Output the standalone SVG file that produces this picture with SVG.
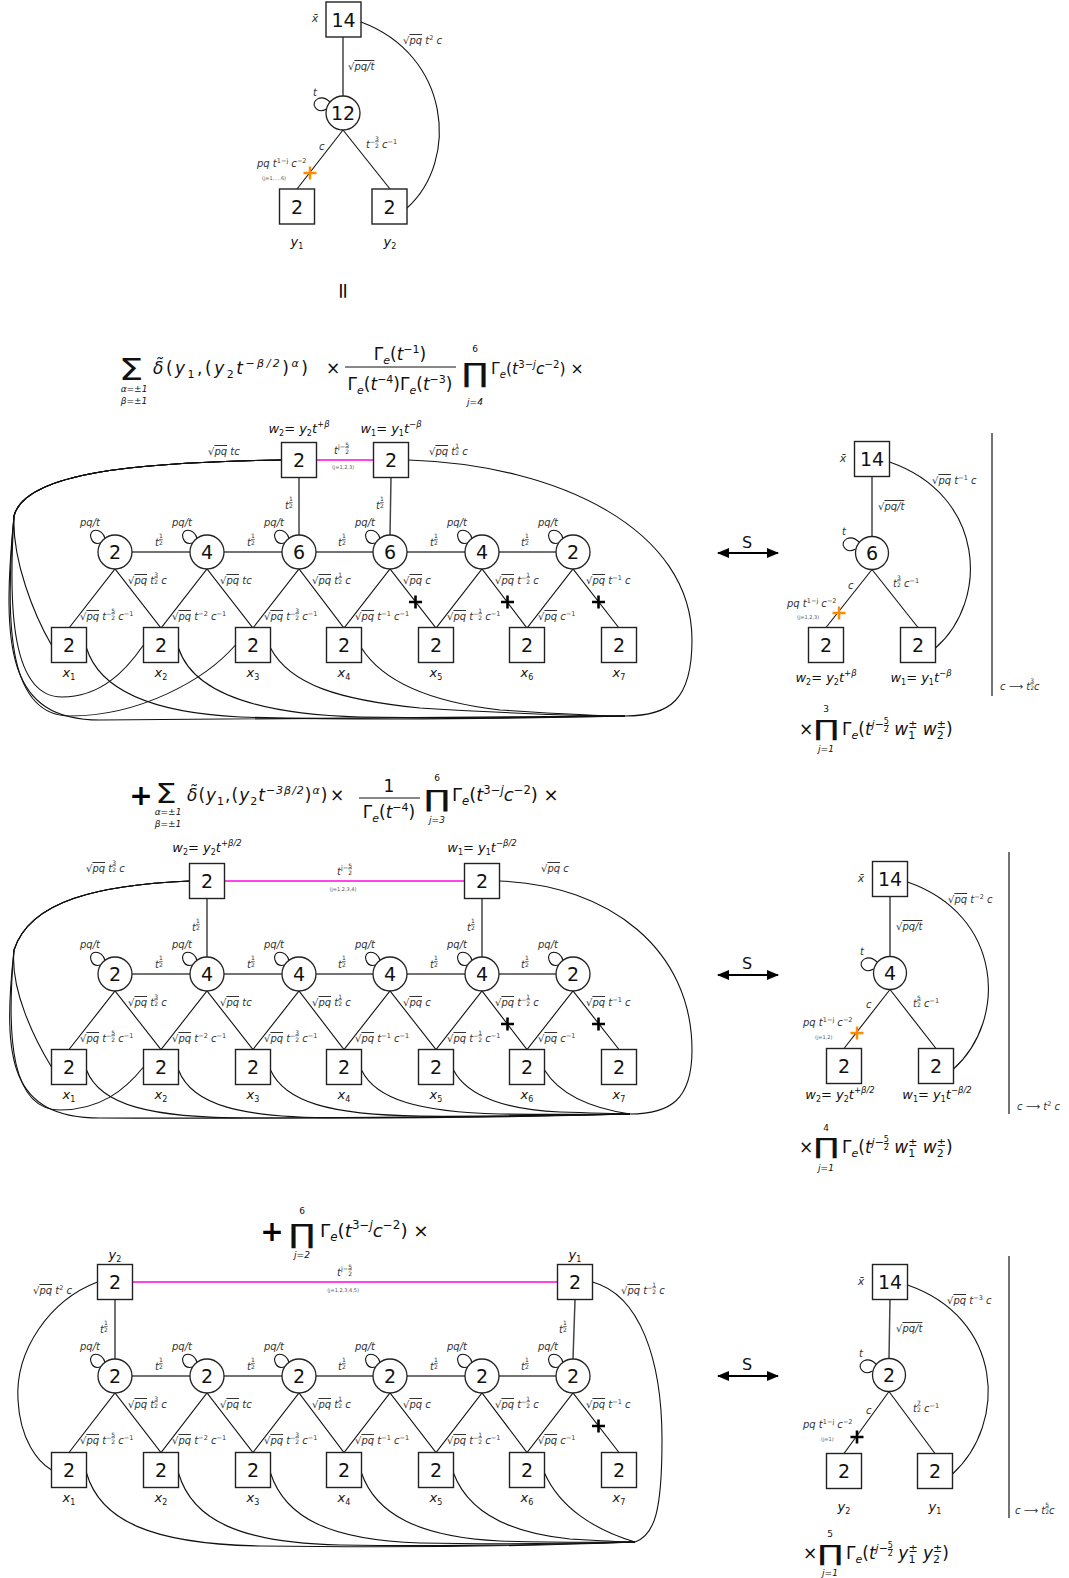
<svg xmlns="http://www.w3.org/2000/svg" width="1069" height="1578" viewBox="0 0 1069 1578">
<style>
.bx{fill:#fff;stroke:#222;stroke-width:1.4}
.ci{fill:#fff;stroke:#222;stroke-width:1.3}
.n{font-family:'DejaVu Sans',sans-serif;font-size:19px;text-anchor:middle;fill:#111}
.e{fill:none;stroke:#111;stroke-width:1.1}
.eg{fill:none;stroke:#444;stroke-width:1.5}
.mg{stroke:#ff44ee;stroke-width:1.8}
.lp{fill:none;stroke:#111;stroke-width:1.1}
.lb{font-family:'DejaVu Sans',sans-serif;font-size:10px;font-style:italic;fill:#333}
.fs{font-size:6px;font-style:normal}
.fe{font-size:6.5px;font-style:normal}
.fb{font-size:8px;font-style:normal}
.ov{text-decoration:overline}
.ul{text-decoration:underline}
.rm{font-style:normal}
.tn{font-family:'DejaVu Sans',sans-serif;font-size:5px;fill:#555}
.wl{font-family:'DejaVu Sans',sans-serif;font-size:13px;font-style:italic;fill:#111}
.sb{font-size:8px;font-style:normal}
.sp{font-size:8.5px}
.fm{font-family:'DejaVu Sans',sans-serif;font-size:17px;fill:#111}
.it{font-style:italic}
.big{font-family:'DejaVu Sans',sans-serif;font-size:28px;fill:#111;text-anchor:middle}
.sig{font-family:'DejaVu Sans',sans-serif;font-size:30px;fill:#111;text-anchor:middle}
.lim{font-family:'DejaVu Sans',sans-serif;font-size:9px;fill:#111;text-anchor:middle}
.fsub{font-size:11px}
.plus{font-family:'DejaVu Sans',sans-serif;font-size:28px;font-weight:bold;fill:#000;text-anchor:middle}
.xc{fill:none;stroke:#000;stroke-width:2.6}
.oc{fill:none;stroke:#ff8c00;stroke-width:2.4}
.sa{stroke:#000;stroke-width:2}
.st{font-family:'DejaVu Sans',sans-serif;font-size:16px;fill:#111;text-anchor:middle}
</style>
<defs>
<marker id="ah" markerUnits="userSpaceOnUse" markerWidth="12" markerHeight="10" refX="11" refY="5" orient="auto-start-reverse" viewBox="0 0 12 10"><path d="M0,0 L12,5 L0,10 z" fill="#000"/></marker>
<path id="LU" d="M-10,-13.5 C-13,-25 -27,-24 -24,-14 C-22,-8 -18,-8 -14.5,-9"/>
<path id="LL" d="M-13,-11 C-22,-20 -32,-12 -28,-6 C-25,-1 -20,-2 -16.5,-4"/>
<path id="XC" d="M-6.5,0H6.5M0,-6.5V6.5"/>
<text id="R1" class="lb"><tspan class="rm">√</tspan><tspan class="ov">pq</tspan> t<tspan class="fs ul" dy="-7.5">3</tspan><tspan class="fs" dx="-3.8" dy="7">2</tspan><tspan dy="0.5"> c</tspan></text>
<text id="R2" class="lb"><tspan class="rm">√</tspan><tspan class="ov">pq</tspan> tc</text>
<text id="R3" class="lb"><tspan class="rm">√</tspan><tspan class="ov">pq</tspan> t<tspan class="fs ul" dy="-7.5">1</tspan><tspan class="fs" dx="-3.8" dy="7">2</tspan><tspan dy="0.5"> c</tspan></text>
<text id="R4" class="lb"><tspan class="rm">√</tspan><tspan class="ov">pq</tspan> c</text>
<text id="R5" class="lb"><tspan class="rm">√</tspan><tspan class="ov">pq</tspan> t<tspan class="fs" dy="-4">−</tspan><tspan class="fs ul" dy="-3.5">1</tspan><tspan class="fs" dx="-3.8" dy="7">2</tspan><tspan dy="0.5"> c</tspan></text>
<text id="R6" class="lb"><tspan class="rm">√</tspan><tspan class="ov">pq</tspan> t<tspan class="fe" dy="-4">−1</tspan><tspan dy="4"> c</tspan></text>
<text id="R7" class="lb"><tspan class="rm">√</tspan><tspan class="ov">pq</tspan> t<tspan class="fe" dy="-4">−2</tspan><tspan dy="4"> c</tspan></text>
<text id="R8" class="lb"><tspan class="rm">√</tspan><tspan class="ov">pq</tspan> t<tspan class="fe" dy="-4">−3</tspan><tspan dy="4"> c</tspan></text>
<text id="LT" class="lb"><tspan class="rm">√</tspan><tspan class="ov">pq</tspan> t<tspan class="fe" dy="-4">2</tspan><tspan dy="4"> c</tspan></text>
<text id="L1" class="lb"><tspan class="rm">√</tspan><tspan class="ov">pq</tspan> t<tspan class="fs" dy="-4">−</tspan><tspan class="fs ul" dy="-3.5">5</tspan><tspan class="fs" dx="-3.8" dy="7">2</tspan><tspan dy="0.5"> c</tspan><tspan class="fe" dy="-4">−1</tspan></text>
<text id="L2" class="lb"><tspan class="rm">√</tspan><tspan class="ov">pq</tspan> t<tspan class="fe" dy="-4">−2</tspan><tspan dy="4"> c</tspan><tspan class="fe" dy="-4">−1</tspan></text>
<text id="L3" class="lb"><tspan class="rm">√</tspan><tspan class="ov">pq</tspan> t<tspan class="fs" dy="-4">−</tspan><tspan class="fs ul" dy="-3.5">3</tspan><tspan class="fs" dx="-3.8" dy="7">2</tspan><tspan dy="0.5"> c</tspan><tspan class="fe" dy="-4">−1</tspan></text>
<text id="L4" class="lb"><tspan class="rm">√</tspan><tspan class="ov">pq</tspan> t<tspan class="fe" dy="-4">−1</tspan><tspan dy="4"> c</tspan><tspan class="fe" dy="-4">−1</tspan></text>
<text id="L5" class="lb"><tspan class="rm">√</tspan><tspan class="ov">pq</tspan> t<tspan class="fs" dy="-4">−</tspan><tspan class="fs ul" dy="-3.5">1</tspan><tspan class="fs" dx="-3.8" dy="7">2</tspan><tspan dy="0.5"> c</tspan><tspan class="fe" dy="-4">−1</tspan></text>
<text id="L6" class="lb"><tspan class="rm">√</tspan><tspan class="ov">pq</tspan> c<tspan class="fe" dy="-4">−1</tspan></text>
<text id="TH" class="lb">t<tspan class="fs ul" dy="-8">1</tspan><tspan class="fs" dx="-3.8" dy="7">2</tspan></text>
<text id="TJ" class="lb">t<tspan class="fe" dy="-5">j−</tspan><tspan class="fs ul" dy="-2.5">5</tspan><tspan class="fs" dx="-3.8" dy="7">2</tspan></text>
<text id="SQ" class="lb"><tspan class="rm">√</tspan><tspan class="ov">pq/t</tspan></text>
<text id="PQT" class="lb">pq/t</text>
<text id="PQJ" class="lb">pq t<tspan class="fe" dy="-4">1−j</tspan><tspan dy="4"> c</tspan><tspan class="fe" dy="-4">−2</tspan></text>
<text id="W2a" class="wl" text-anchor="middle">w<tspan class="sb" dy="3">2</tspan><tspan class="rm" dy="-3">= </tspan>y<tspan class="sb" dy="3">2</tspan><tspan dy="-3">t</tspan><tspan class="sp" dy="-6">+β</tspan></text>
<text id="W1a" class="wl" text-anchor="middle">w<tspan class="sb" dy="3">1</tspan><tspan class="rm" dy="-3">= </tspan>y<tspan class="sb" dy="3">1</tspan><tspan dy="-3">t</tspan><tspan class="sp" dy="-6">−β</tspan></text>
<text id="W2b" class="wl" text-anchor="middle">w<tspan class="sb" dy="3">2</tspan><tspan class="rm" dy="-3">= </tspan>y<tspan class="sb" dy="3">2</tspan><tspan dy="-3">t</tspan><tspan class="sp" dy="-6">+β/2</tspan></text>
<text id="W1b" class="wl" text-anchor="middle">w<tspan class="sb" dy="3">1</tspan><tspan class="rm" dy="-3">= </tspan>y<tspan class="sb" dy="3">1</tspan><tspan dy="-3">t</tspan><tspan class="sp" dy="-6">−β/2</tspan></text>
<text id="GT" class="fm">Γ<tspan class="fsub it" dy="4">e</tspan><tspan dy="-4">(</tspan><tspan class="it">t</tspan><tspan class="fsub" dy="-7">3−<tspan class="it">j</tspan></tspan><tspan class="it" dy="7">c</tspan><tspan class="fsub" dy="-7">−2</tspan><tspan dy="7">) ×</tspan></text>
</defs>
<rect width="1069" height="1578" fill="#fff"/>

<g id="connectors">
 <g id="edges-top">
  <line class="eg" x1="343" y1="37" x2="343" y2="96"/>
  <line class="e" x1="343" y1="130" x2="297" y2="189"/>
  <line class="e" x1="343" y1="130" x2="390" y2="189"/>
  <path class="e" d="M361,22 C450,55 460,160 407,208"/>
  <use href="#LL" x="343" y="113" class="lp"/>
  <use href="#XC" x="310" y="173" class="oc"/>
 </g>
 <g id="edges-s1">
  <line class="eg" x1="299" y1="477" x2="299" y2="536"/>
  <line class="eg" x1="391" y1="477" x2="390" y2="536"/>
  <line class="mg" x1="317" y1="460" x2="373" y2="460"/>
  <line class="eg" x1="115" y1="552" x2="573" y2="552"/>
  <path class="e" d="M69,628 L115,569 L161,628 L207,569 L253,628 L299,569 L344,628 L390,569 L436,628 L482,569 L527,628 L573,569 L619,628"/>
  <path class="e" d="M281.5,460 C140,462 25,472 14,516 C12,560 34,615 51.5,645"/>
  <path class="e" d="M281.5,460 C140,462 25,472 14,516 C8,610 12,697 62,697 C100,697 125,672 143.5,645"/>
  <path class="e" d="M281.5,460 C140,462 25,472 14,516 C4,630 10,716 70,716 C140,716 205,680 235.5,645"/>
  <path class="e" d="M281.5,460 C140,462 25,472 14,516 C1,650 8,720 100,720 C300,720 500,718 625,716"/>
  <path class="e" d="M408.5,460 C560,465 692,530 692,640 C692,700 670,716 625,716"/>
  <path class="e" d="M86.5,648 C98,685 140,712 240,717 C380,721 540,718 625,716"/>
  <path class="e" d="M178.5,648 C192,690 250,714 360,717 C480,719 560,717 625,716"/>
  <path class="e" d="M270.5,648 C290,685 340,700 420,708 C520,714 580,716 625,716"/>
  <path class="e" d="M361.5,648 C385,685 440,703 500,710 C560,714 600,716 625,716"/>
  <use href="#LU" x="115" y="552" class="lp"/><use href="#LU" x="207" y="552" class="lp"/><use href="#LU" x="299" y="552" class="lp"/>
  <use href="#LU" x="390" y="552" class="lp"/><use href="#LU" x="482" y="552" class="lp"/><use href="#LU" x="573" y="552" class="lp"/>
  <use href="#XC" x="415.5" y="602" class="xc"/><use href="#XC" x="507.5" y="602" class="xc"/><use href="#XC" x="598.5" y="602" class="xc"/>
 </g>
 <g id="edges-s2">
  <line class="eg" x1="207" y1="898" x2="207" y2="957"/>
  <line class="eg" x1="482" y1="898" x2="482" y2="957"/>
  <line class="mg" x1="224.5" y1="881" x2="464.5" y2="881"/>
  <line class="eg" x1="115" y1="974" x2="573" y2="974"/>
  <path class="e" d="M69,1049.5 L115,991 L161,1049.5 L207,991 L253,1049.5 L299,991 L344,1049.5 L390,991 L436,1049.5 L482,991 L527,1049.5 L573,991 L619,1049.5"/>
  <path class="e" d="M189.5,881 C100,885 30,900 14,950 C10,990 35,1040 51.5,1067"/>
  <path class="e" d="M189.5,881 C100,885 30,900 14,950 C6,1040 12,1110 60,1110 C100,1110 125,1090 143.5,1067"/>
  <path class="e" d="M189.5,881 C100,885 30,900 14,950 C2,1060 10,1118 100,1118 C300,1119 500,1116 630,1114"/>
  <path class="e" d="M499.5,881 C610,885 692,950 692,1050 C692,1100 670,1114 630,1114"/>
  <path class="e" d="M86.5,1070 C100,1105 150,1118 250,1118 C400,1118 550,1116 630,1114"/>
  <path class="e" d="M178.5,1070 C192,1105 240,1118 340,1118 C450,1118 560,1116 630,1114"/>
  <path class="e" d="M270.5,1070 C285,1102 330,1115 420,1116 C520,1117 580,1115 630,1114"/>
  <path class="e" d="M361.5,1070 C376,1100 420,1112 500,1114 C560,1115 600,1114 630,1114"/>
  <path class="e" d="M453.5,1070 C468,1098 510,1110 560,1112 C600,1113 615,1114 630,1114"/>
  <path class="e" d="M544.5,1070 C560,1095 590,1108 630,1114"/>
  <use href="#LU" x="115" y="974" class="lp"/><use href="#LU" x="207" y="974" class="lp"/><use href="#LU" x="299" y="974" class="lp"/>
  <use href="#LU" x="390" y="974" class="lp"/><use href="#LU" x="482" y="974" class="lp"/><use href="#LU" x="573" y="974" class="lp"/>
  <use href="#XC" x="507.5" y="1024" class="xc"/><use href="#XC" x="598.5" y="1024" class="xc"/>
 </g>
 <g id="edges-s3">
  <line class="eg" x1="115" y1="1300" x2="115" y2="1359"/>
  <line class="eg" x1="575" y1="1300" x2="573" y2="1359"/>
  <line class="mg" x1="132.5" y1="1282" x2="557.5" y2="1282"/>
  <line class="eg" x1="115" y1="1376" x2="573" y2="1376"/>
  <path class="e" d="M69,1452.5 L115,1393 L161,1452.5 L207,1393 L253,1452.5 L299,1393 L344,1452.5 L390,1393 L436,1452.5 L482,1393 L527,1452.5 L573,1393 L619,1452.5"/>
  <path class="e" d="M97.5,1282 C50,1300 15,1350 18,1400 C20,1440 38,1462 51.5,1470"/>
  <path class="e" d="M592.5,1282 C640,1295 662,1360 662,1440 C662,1510 655,1535 635,1542"/>
  <path class="e" d="M86.5,1473 C100,1520 150,1544 260,1546 C420,1548 560,1545 635,1542"/>
  <path class="e" d="M178.5,1473 C192,1520 240,1543 340,1545 C460,1547 570,1544 635,1542"/>
  <path class="e" d="M270.5,1473 C285,1518 330,1540 420,1543 C520,1545 590,1543 635,1542"/>
  <path class="e" d="M361.5,1473 C376,1515 420,1537 500,1541 C570,1543 610,1542 635,1542"/>
  <path class="e" d="M453.5,1473 C468,1512 510,1533 570,1539 C605,1541 620,1542 635,1542"/>
  <path class="e" d="M544.5,1473 C560,1508 595,1530 635,1542"/>
  <use href="#LU" x="115" y="1376" class="lp"/><use href="#LU" x="207" y="1376" class="lp"/><use href="#LU" x="299" y="1376" class="lp"/>
  <use href="#LU" x="390" y="1376" class="lp"/><use href="#LU" x="482" y="1376" class="lp"/><use href="#LU" x="573" y="1376" class="lp"/>
  <use href="#XC" x="598.5" y="1426" class="xc"/>
 </g>
 <g id="edges-p1">
  <line class="eg" x1="872" y1="477" x2="872" y2="536.5"/>
  <line class="e" x1="872" y1="569.5" x2="826" y2="627.5"/>
  <line class="e" x1="872" y1="569.5" x2="918" y2="627.5"/>
  <path class="e" d="M889.5,462 C985,495 990,600 935.5,648"/>
  <use href="#LL" x="872" y="553" class="lp"/>
  <use href="#XC" x="839" y="613" class="oc"/>
  <line class="sa" x1="718" y1="553" x2="778" y2="553" marker-start="url(#ah)" marker-end="url(#ah)"/>
  <line class="eg" x1="992" y1="433" x2="992" y2="696"/>
 </g>
 <g id="edges-p2">
  <line class="eg" x1="890" y1="896.5" x2="890" y2="956.5"/>
  <line class="e" x1="890" y1="989.5" x2="844" y2="1048.5"/>
  <line class="e" x1="890" y1="989.5" x2="936" y2="1048.5"/>
  <path class="e" d="M907.5,882 C1003,915 1008,1020 953.5,1069"/>
  <use href="#LL" x="890" y="973" class="lp"/>
  <use href="#XC" x="857" y="1033" class="oc"/>
  <line class="sa" x1="718" y1="975" x2="778" y2="975" marker-start="url(#ah)" marker-end="url(#ah)"/>
  <line class="eg" x1="1009" y1="852" x2="1009" y2="1114"/>
 </g>
 <g id="edges-p3">
  <line class="eg" x1="890" y1="1299.5" x2="889" y2="1358.5"/>
  <line class="e" x1="889" y1="1391.5" x2="844" y2="1453.5"/>
  <line class="e" x1="889" y1="1391.5" x2="935" y2="1453.5"/>
  <path class="e" d="M907.5,1285 C1003,1318 1008,1423 952.5,1474"/>
  <use href="#LL" x="889" y="1375" class="lp"/>
  <use href="#XC" x="857" y="1437" class="xc"/>
  <line class="sa" x1="718" y1="1376" x2="778" y2="1376" marker-start="url(#ah)" marker-end="url(#ah)"/>
  <line class="eg" x1="1009" y1="1256" x2="1009" y2="1518"/>
 </g>
</g>

<g id="edge-labels">
 <use href="#SQ" x="348" y="70"/>
 <use href="#LT" x="403" y="44"/>
 <text class="lb" x="313" y="96">t</text>
 <text class="lb" x="319" y="150">c</text>
 <text class="lb" x="366" y="148">t<tspan class="fs" dy="-4">−</tspan><tspan class="fs ul" dy="-3.5">3</tspan><tspan class="fs" dx="-3.8" dy="7">2</tspan><tspan dy="0.5"> c</tspan><tspan class="fe" dy="-4">−1</tspan></text>
 <use href="#PQJ" x="257" y="167"/>
 <text class="tn" x="262" y="180">(j=1,…,6)</text>
 <use href="#R2" x="208" y="455"/>
 <use href="#R3" x="429" y="455"/>
 <use href="#TJ" x="334" y="454"/>
 <text class="tn" x="343" y="469" text-anchor="middle">(j=1,2,3)</text>
 <use href="#TH" x="285" y="509"/><use href="#TH" x="376" y="509"/>
 <use href="#TH" x="155" y="546"/><use href="#TH" x="247" y="546"/><use href="#TH" x="338" y="546"/><use href="#TH" x="430" y="546"/><use href="#TH" x="521" y="546"/>
 <use href="#PQT" x="80" y="526"/><use href="#PQT" x="172" y="526"/><use href="#PQT" x="264" y="526"/><use href="#PQT" x="355" y="526"/><use href="#PQT" x="447" y="526"/><use href="#PQT" x="538" y="526"/>
 <use href="#R1" x="128" y="584"/><use href="#R2" x="220" y="584"/><use href="#R3" x="312" y="584"/><use href="#R4" x="403" y="584"/><use href="#R5" x="495" y="584"/><use href="#R6" x="586" y="584"/>
 <use href="#L1" x="80" y="620"/><use href="#L2" x="172" y="620"/><use href="#L3" x="264" y="620"/><use href="#L4" x="355" y="620"/><use href="#L5" x="447" y="620"/><use href="#L6" x="538" y="620"/>
 <use href="#R1" x="86" y="872"/>
 <use href="#R4" x="541" y="872"/>
 <use href="#TJ" x="337" y="875"/>
 <text class="tn" x="343" y="891" text-anchor="middle">(j=1,2,3,4)</text>
 <use href="#TH" x="192" y="931"/><use href="#TH" x="467" y="931"/>
 <use href="#TH" x="155" y="968"/><use href="#TH" x="247" y="968"/><use href="#TH" x="338" y="968"/><use href="#TH" x="430" y="968"/><use href="#TH" x="521" y="968"/>
 <use href="#PQT" x="80" y="948"/><use href="#PQT" x="172" y="948"/><use href="#PQT" x="264" y="948"/><use href="#PQT" x="355" y="948"/><use href="#PQT" x="447" y="948"/><use href="#PQT" x="538" y="948"/>
 <use href="#R1" x="128" y="1006"/><use href="#R2" x="220" y="1006"/><use href="#R3" x="312" y="1006"/><use href="#R4" x="403" y="1006"/><use href="#R5" x="495" y="1006"/><use href="#R6" x="586" y="1006"/>
 <use href="#L1" x="80" y="1042"/><use href="#L2" x="172" y="1042"/><use href="#L3" x="264" y="1042"/><use href="#L4" x="355" y="1042"/><use href="#L5" x="447" y="1042"/><use href="#L6" x="538" y="1042"/>
 <use href="#LT" x="33" y="1294"/>
 <use href="#R5" x="621" y="1294"/>
 <use href="#TJ" x="337" y="1276"/>
 <text class="tn" x="343" y="1292" text-anchor="middle">(j=1,2,3,4,5)</text>
 <use href="#TH" x="100" y="1333"/><use href="#TH" x="559" y="1333"/>
 <use href="#TH" x="155" y="1370"/><use href="#TH" x="247" y="1370"/><use href="#TH" x="338" y="1370"/><use href="#TH" x="430" y="1370"/><use href="#TH" x="521" y="1370"/>
 <use href="#PQT" x="80" y="1350"/><use href="#PQT" x="172" y="1350"/><use href="#PQT" x="264" y="1350"/><use href="#PQT" x="355" y="1350"/><use href="#PQT" x="447" y="1350"/><use href="#PQT" x="538" y="1350"/>
 <use href="#R1" x="128" y="1408"/><use href="#R2" x="220" y="1408"/><use href="#R3" x="312" y="1408"/><use href="#R4" x="403" y="1408"/><use href="#R5" x="495" y="1408"/><use href="#R6" x="586" y="1408"/>
 <use href="#L1" x="80" y="1444"/><use href="#L2" x="172" y="1444"/><use href="#L3" x="264" y="1444"/><use href="#L4" x="355" y="1444"/><use href="#L5" x="447" y="1444"/><use href="#L6" x="538" y="1444"/>
 <use href="#SQ" x="878" y="510"/>
 <use href="#R6" x="932" y="484"/>
 <text class="lb" x="842" y="535">t</text>
 <text class="lb" x="848" y="589">c</text>
 <text class="lb" x="893" y="587">t<tspan class="fs ul" dy="-7.5">3</tspan><tspan class="fs" dx="-3.8" dy="7">2</tspan><tspan dy="0.5"> c</tspan><tspan class="fe" dy="-4">−1</tspan></text>
 <use href="#PQJ" x="787" y="607"/>
 <text class="tn" x="797" y="619">(j=1,2,3)</text>
 <text class="st" x="747" y="548">S</text>
 <use href="#SQ" x="896" y="930"/>
 <use href="#R7" x="948" y="903"/>
 <text class="lb" x="860" y="955">t</text>
 <text class="lb" x="866" y="1008">c</text>
 <text class="lb" x="913" y="1007">t<tspan class="fs ul" dy="-7.5">5</tspan><tspan class="fs" dx="-3.8" dy="7">2</tspan><tspan dy="0.5"> c</tspan><tspan class="fe" dy="-4">−1</tspan></text>
 <use href="#PQJ" x="803" y="1026"/>
 <text class="tn" x="815" y="1039">(j=1,2)</text>
 <text class="st" x="747" y="969">S</text>
 <use href="#SQ" x="896" y="1332"/>
 <use href="#R8" x="947" y="1304"/>
 <text class="lb" x="859" y="1357">t</text>
 <text class="lb" x="866" y="1414">c</text>
 <text class="lb" x="913" y="1412">t<tspan class="fs ul" dy="-7.5">7</tspan><tspan class="fs" dx="-3.8" dy="7">2</tspan><tspan dy="0.5"> c</tspan><tspan class="fe" dy="-4">−1</tspan></text>
 <use href="#PQJ" x="803" y="1428"/>
 <text class="tn" x="821" y="1441">(j=1)</text>
 <text class="st" x="747" y="1370">S</text>
</g>

<g id="n14"><rect class="bx" x="326" y="2" width="35" height="35"/><text class="n" x="343.5" y="26.5">14</text><text class="lb" x="315" y="22" text-anchor="middle" style="font-size:11px">x̄</text></g>
<g id="n12"><circle class="ci" cx="343" cy="113" r="17"/><text class="n" x="343" y="120">12</text></g>
<g id="ny1"><rect class="bx" x="279.5" y="189" width="35" height="35"/><text class="n" x="297" y="213.5">2</text><text class="wl" x="297" y="246" text-anchor="middle">y<tspan class="sb" dy="3">1</tspan></text></g>
<g id="ny2"><rect class="bx" x="372" y="189" width="35" height="35"/><text class="n" x="389.5" y="213.5">2</text><text class="wl" x="390" y="246" text-anchor="middle">y<tspan class="sb" dy="3">2</tspan></text></g>
<g id="eq"><text x="343" y="291" class="st" style="font-size:22px" dominant-baseline="central" transform="rotate(90 343 291)">=</text></g>

<g id="formula1">
 <text class="sig" transform="translate(131,380) scale(1.3,1)">Σ</text>
 <text class="lim it" x="134" y="392">α=±1</text>
 <text class="lim it" x="134" y="404">β=±1</text>
 <text class="fm" x="153" y="374" style="letter-spacing:2.5px"><tspan class="it">δ̃</tspan>(<tspan class="it">y</tspan><tspan class="fsub" dy="4">1</tspan><tspan dy="-4">,(</tspan><tspan class="it">y</tspan><tspan class="fsub" dy="4">2</tspan><tspan class="it" dy="-4">t</tspan><tspan class="fsub it" dy="-7">−β/2</tspan><tspan dy="7">)</tspan><tspan class="fsub it" dy="-7">α</tspan><tspan dy="7">)</tspan></text>
 <text class="fm" x="326" y="374">×</text>
 <text class="fm" x="400" y="360" text-anchor="middle">Γ<tspan class="fsub it" dy="4">e</tspan><tspan dy="-4">(</tspan><tspan class="it">t</tspan><tspan class="fsub" dy="-7">−1</tspan><tspan dy="7">)</tspan></text>
 <line x1="345" y1="367" x2="456" y2="367" stroke="#111" stroke-width="1"/>
 <text class="fm" x="400" y="390" text-anchor="middle">Γ<tspan class="fsub it" dy="4">e</tspan><tspan dy="-4">(</tspan><tspan class="it">t</tspan><tspan class="fsub" dy="-7">−4</tspan><tspan dy="7">)Γ</tspan><tspan class="fsub it" dy="4">e</tspan><tspan dy="-4">(</tspan><tspan class="it">t</tspan><tspan class="fsub" dy="-7">−3</tspan><tspan dy="7">)</tspan></text>
 <text class="big" transform="translate(475,382) scale(1.25,0.95)">∏</text>
 <text class="lim" x="475" y="352">6</text>
 <text class="lim it" x="475" y="405">j=4</text>
 <use href="#GT" x="491" y="374" transform="translate(491,374) scale(0.92) translate(-491,-374)"/>
</g>

<g id="s1w2"><rect class="bx" x="281.5" y="442.5" width="35" height="35"/><text class="n" x="299" y="467">2</text><use href="#W2a" x="299" y="433"/></g>
<g id="s1w1"><rect class="bx" x="373.5" y="442.5" width="35" height="35"/><text class="n" x="391" y="467">2</text><use href="#W1a" x="391" y="433"/></g>
<g id="s1c1"><circle class="ci" cx="115" cy="552" r="17"/><text class="n" x="115" y="559">2</text></g>
<g id="s1c2"><circle class="ci" cx="207" cy="552" r="17"/><text class="n" x="207" y="559">4</text></g>
<g id="s1c3"><circle class="ci" cx="299" cy="552" r="17"/><text class="n" x="299" y="559">6</text></g>
<g id="s1c4"><circle class="ci" cx="390" cy="552" r="17"/><text class="n" x="390" y="559">6</text></g>
<g id="s1c5"><circle class="ci" cx="482" cy="552" r="17"/><text class="n" x="482" y="559">4</text></g>
<g id="s1c6"><circle class="ci" cx="573" cy="552" r="17"/><text class="n" x="573" y="559">2</text></g>
<g id="s1x1"><rect class="bx" x="51.5" y="627.5" width="35" height="35"/><text class="n" x="69" y="652">2</text><text class="wl" x="69" y="677" text-anchor="middle">x<tspan class="sb" dy="3">1</tspan></text></g>
<g id="s1x2"><rect class="bx" x="143.5" y="627.5" width="35" height="35"/><text class="n" x="161" y="652">2</text><text class="wl" x="161" y="677" text-anchor="middle">x<tspan class="sb" dy="3">2</tspan></text></g>
<g id="s1x3"><rect class="bx" x="235.5" y="627.5" width="35" height="35"/><text class="n" x="253" y="652">2</text><text class="wl" x="253" y="677" text-anchor="middle">x<tspan class="sb" dy="3">3</tspan></text></g>
<g id="s1x4"><rect class="bx" x="326.5" y="627.5" width="35" height="35"/><text class="n" x="344" y="652">2</text><text class="wl" x="344" y="677" text-anchor="middle">x<tspan class="sb" dy="3">4</tspan></text></g>
<g id="s1x5"><rect class="bx" x="418.5" y="627.5" width="35" height="35"/><text class="n" x="436" y="652">2</text><text class="wl" x="436" y="677" text-anchor="middle">x<tspan class="sb" dy="3">5</tspan></text></g>
<g id="s1x6"><rect class="bx" x="509.5" y="627.5" width="35" height="35"/><text class="n" x="527" y="652">2</text><text class="wl" x="527" y="677" text-anchor="middle">x<tspan class="sb" dy="3">6</tspan></text></g>
<g id="s1x7"><rect class="bx" x="601.5" y="627.5" width="35" height="35"/><text class="n" x="619" y="652">2</text><text class="wl" x="619" y="677" text-anchor="middle">x<tspan class="sb" dy="3">7</tspan></text></g>

<g id="p1x"><rect class="bx" x="854.5" y="441.5" width="35" height="35"/><text class="n" x="872" y="466">14</text><text class="lb" x="843" y="462" text-anchor="middle" style="font-size:11px">x̄</text></g>
<g id="p1c"><circle class="ci" cx="872" cy="553" r="16.5"/><text class="n" x="872" y="560">6</text></g>
<g id="p1w2"><rect class="bx" x="808.5" y="627.5" width="35" height="35"/><text class="n" x="826" y="652">2</text><use href="#W2a" x="826" y="682"/></g>
<g id="p1w1"><rect class="bx" x="900.5" y="627.5" width="35" height="35"/><text class="n" x="918" y="652">2</text><use href="#W1a" x="921" y="682"/></g>
<g id="p1note"><text class="lb" x="1000" y="690">c <tspan class="rm">⟶</tspan> t<tspan class="fs ul" dy="-7.5">3</tspan><tspan class="fs" dx="-3.8" dy="7">2</tspan><tspan dy="0.5">c</tspan></text></g>
<g id="p1prod">
 <text class="fm" x="799" y="735">×</text>
 <text class="big" transform="translate(826,736) scale(1.2,0.8)">∏</text>
 <text class="lim" x="826" y="712">3</text>
 <text class="lim it" x="826" y="752">j=1</text>
 <text class="fm" x="842" y="735">Γ<tspan class="fsub it" dy="4">e</tspan><tspan dy="-4">(</tspan><tspan class="it">t</tspan><tspan class="fsub it" dy="-7">j−</tspan><tspan class="fb ul" dy="-4">5</tspan><tspan class="fb" dx="-5.1" dy="8">2</tspan><tspan class="it" dy="3"> w</tspan><tspan class="fsub" dy="4">1</tspan><tspan class="fsub" dx="-7" dy="-11">±</tspan><tspan class="it" dy="7"> w</tspan><tspan class="fsub" dy="4">2</tspan><tspan class="fsub" dx="-7" dy="-11">±</tspan><tspan dy="7">)</tspan></text>
</g>

<g id="formula2">
 <text class="plus" x="141" y="805">+</text>
 <text class="sig" style="font-size:26px" transform="translate(166,803) scale(1.3,1)">Σ</text>
 <text class="lim it" x="168" y="815">α=±1</text>
 <text class="lim it" x="168" y="827">β=±1</text>
 <text class="fm" x="187" y="801" style="letter-spacing:1px"><tspan class="it">δ̃</tspan>(<tspan class="it">y</tspan><tspan class="fsub" dy="4">1</tspan><tspan dy="-4">,(</tspan><tspan class="it">y</tspan><tspan class="fsub" dy="4">2</tspan><tspan class="it" dy="-4">t</tspan><tspan class="fsub it" dy="-7">−3β/2</tspan><tspan dy="7">)</tspan><tspan class="fsub it" dy="-7">α</tspan><tspan dy="7">)</tspan></text>
 <text class="fm" x="330" y="801">×</text>
 <text class="fm" x="389" y="792" text-anchor="middle">1</text>
 <line x1="359" y1="798" x2="420" y2="798" stroke="#111" stroke-width="1"/>
 <text class="fm" x="389" y="818" text-anchor="middle">Γ<tspan class="fsub it" dy="4">e</tspan><tspan dy="-4">(</tspan><tspan class="it">t</tspan><tspan class="fsub" dy="-7">−4</tspan><tspan dy="7">)</tspan></text>
 <text class="big" transform="translate(437,807) scale(1.25,0.85)">∏</text>
 <text class="lim" x="437" y="781">6</text>
 <text class="lim it" x="437" y="823">j=3</text>
 <use href="#GT" transform="translate(452,801) scale(1.06)"/>
</g>

<g id="s2w2"><rect class="bx" x="189.5" y="863.5" width="35" height="35"/><text class="n" x="207" y="888">2</text><use href="#W2b" x="207" y="852"/></g>
<g id="s2w1"><rect class="bx" x="464.5" y="863.5" width="35" height="35"/><text class="n" x="482" y="888">2</text><use href="#W1b" x="482" y="852"/></g>
<g id="s2c1"><circle class="ci" cx="115" cy="974" r="17"/><text class="n" x="115" y="981">2</text></g>
<g id="s2c2"><circle class="ci" cx="207" cy="974" r="17"/><text class="n" x="207" y="981">4</text></g>
<g id="s2c3"><circle class="ci" cx="299" cy="974" r="17"/><text class="n" x="299" y="981">4</text></g>
<g id="s2c4"><circle class="ci" cx="390" cy="974" r="17"/><text class="n" x="390" y="981">4</text></g>
<g id="s2c5"><circle class="ci" cx="482" cy="974" r="17"/><text class="n" x="482" y="981">4</text></g>
<g id="s2c6"><circle class="ci" cx="573" cy="974" r="17"/><text class="n" x="573" y="981">2</text></g>
<g id="s2x1"><rect class="bx" x="51.5" y="1049.5" width="35" height="35"/><text class="n" x="69" y="1074">2</text><text class="wl" x="69" y="1099" text-anchor="middle">x<tspan class="sb" dy="3">1</tspan></text></g>
<g id="s2x2"><rect class="bx" x="143.5" y="1049.5" width="35" height="35"/><text class="n" x="161" y="1074">2</text><text class="wl" x="161" y="1099" text-anchor="middle">x<tspan class="sb" dy="3">2</tspan></text></g>
<g id="s2x3"><rect class="bx" x="235.5" y="1049.5" width="35" height="35"/><text class="n" x="253" y="1074">2</text><text class="wl" x="253" y="1099" text-anchor="middle">x<tspan class="sb" dy="3">3</tspan></text></g>
<g id="s2x4"><rect class="bx" x="326.5" y="1049.5" width="35" height="35"/><text class="n" x="344" y="1074">2</text><text class="wl" x="344" y="1099" text-anchor="middle">x<tspan class="sb" dy="3">4</tspan></text></g>
<g id="s2x5"><rect class="bx" x="418.5" y="1049.5" width="35" height="35"/><text class="n" x="436" y="1074">2</text><text class="wl" x="436" y="1099" text-anchor="middle">x<tspan class="sb" dy="3">5</tspan></text></g>
<g id="s2x6"><rect class="bx" x="509.5" y="1049.5" width="35" height="35"/><text class="n" x="527" y="1074">2</text><text class="wl" x="527" y="1099" text-anchor="middle">x<tspan class="sb" dy="3">6</tspan></text></g>
<g id="s2x7"><rect class="bx" x="601.5" y="1049.5" width="35" height="35"/><text class="n" x="619" y="1074">2</text><text class="wl" x="619" y="1099" text-anchor="middle">x<tspan class="sb" dy="3">7</tspan></text></g>

<g id="p2x"><rect class="bx" x="872.5" y="861.5" width="35" height="35"/><text class="n" x="890" y="886">14</text><text class="lb" x="861" y="882" text-anchor="middle" style="font-size:11px">x̄</text></g>
<g id="p2c"><circle class="ci" cx="890" cy="973" r="16.5"/><text class="n" x="890" y="980">4</text></g>
<g id="p2w2"><rect class="bx" x="826.5" y="1048.5" width="35" height="35"/><text class="n" x="844" y="1073">2</text><use href="#W2b" x="840" y="1099"/></g>
<g id="p2w1"><rect class="bx" x="918.5" y="1048.5" width="35" height="35"/><text class="n" x="936" y="1073">2</text><use href="#W1b" x="937" y="1099"/></g>
<g id="p2note"><text class="lb" x="1017" y="1110">c <tspan class="rm">⟶</tspan> t<tspan class="fe" dy="-4">2</tspan><tspan dy="4"> c</tspan></text></g>
<g id="p2prod">
 <text class="fm" x="799" y="1153">×</text>
 <text class="big" transform="translate(826,1154) scale(1.2,0.8)">∏</text>
 <text class="lim" x="826" y="1131">4</text>
 <text class="lim it" x="826" y="1171">j=1</text>
 <text class="fm" x="842" y="1153">Γ<tspan class="fsub it" dy="4">e</tspan><tspan dy="-4">(</tspan><tspan class="it">t</tspan><tspan class="fsub it" dy="-7">j−</tspan><tspan class="fb ul" dy="-4">5</tspan><tspan class="fb" dx="-5.1" dy="8">2</tspan><tspan class="it" dy="3"> w</tspan><tspan class="fsub" dy="4">1</tspan><tspan class="fsub" dx="-7" dy="-11">±</tspan><tspan class="it" dy="7"> w</tspan><tspan class="fsub" dy="4">2</tspan><tspan class="fsub" dx="-7" dy="-11">±</tspan><tspan dy="7">)</tspan></text>
</g>

<g id="formula3">
 <text class="plus" x="272" y="1241">+</text>
 <text class="big" transform="translate(302,1243) scale(1.25,0.95)">∏</text>
 <text class="lim" x="302" y="1214">6</text>
 <text class="lim it" x="302" y="1258">j=2</text>
 <use href="#GT" transform="translate(320,1237) scale(1.08)"/>
</g>

<g id="s3y2"><rect class="bx" x="97.5" y="1264.5" width="35" height="35"/><text class="n" x="115" y="1289">2</text><text class="wl" x="115" y="1259" text-anchor="middle">y<tspan class="sb" dy="3">2</tspan></text></g>
<g id="s3y1"><rect class="bx" x="557.5" y="1264.5" width="35" height="35"/><text class="n" x="575" y="1289">2</text><text class="wl" x="575" y="1259" text-anchor="middle">y<tspan class="sb" dy="3">1</tspan></text></g>
<g id="s3c1"><circle class="ci" cx="115" cy="1376" r="17"/><text class="n" x="115" y="1383">2</text></g>
<g id="s3c2"><circle class="ci" cx="207" cy="1376" r="17"/><text class="n" x="207" y="1383">2</text></g>
<g id="s3c3"><circle class="ci" cx="299" cy="1376" r="17"/><text class="n" x="299" y="1383">2</text></g>
<g id="s3c4"><circle class="ci" cx="390" cy="1376" r="17"/><text class="n" x="390" y="1383">2</text></g>
<g id="s3c5"><circle class="ci" cx="482" cy="1376" r="17"/><text class="n" x="482" y="1383">2</text></g>
<g id="s3c6"><circle class="ci" cx="573" cy="1376" r="17"/><text class="n" x="573" y="1383">2</text></g>
<g id="s3x1"><rect class="bx" x="51.5" y="1452.5" width="35" height="35"/><text class="n" x="69" y="1477">2</text><text class="wl" x="69" y="1502" text-anchor="middle">x<tspan class="sb" dy="3">1</tspan></text></g>
<g id="s3x2"><rect class="bx" x="143.5" y="1452.5" width="35" height="35"/><text class="n" x="161" y="1477">2</text><text class="wl" x="161" y="1502" text-anchor="middle">x<tspan class="sb" dy="3">2</tspan></text></g>
<g id="s3x3"><rect class="bx" x="235.5" y="1452.5" width="35" height="35"/><text class="n" x="253" y="1477">2</text><text class="wl" x="253" y="1502" text-anchor="middle">x<tspan class="sb" dy="3">3</tspan></text></g>
<g id="s3x4"><rect class="bx" x="326.5" y="1452.5" width="35" height="35"/><text class="n" x="344" y="1477">2</text><text class="wl" x="344" y="1502" text-anchor="middle">x<tspan class="sb" dy="3">4</tspan></text></g>
<g id="s3x5"><rect class="bx" x="418.5" y="1452.5" width="35" height="35"/><text class="n" x="436" y="1477">2</text><text class="wl" x="436" y="1502" text-anchor="middle">x<tspan class="sb" dy="3">5</tspan></text></g>
<g id="s3x6"><rect class="bx" x="509.5" y="1452.5" width="35" height="35"/><text class="n" x="527" y="1477">2</text><text class="wl" x="527" y="1502" text-anchor="middle">x<tspan class="sb" dy="3">6</tspan></text></g>
<g id="s3x7"><rect class="bx" x="601.5" y="1452.5" width="35" height="35"/><text class="n" x="619" y="1477">2</text><text class="wl" x="619" y="1502" text-anchor="middle">x<tspan class="sb" dy="3">7</tspan></text></g>

<g id="p3x"><rect class="bx" x="872.5" y="1264.5" width="35" height="35"/><text class="n" x="890" y="1289">14</text><text class="lb" x="861" y="1285" text-anchor="middle" style="font-size:11px">x̄</text></g>
<g id="p3c"><circle class="ci" cx="889" cy="1375" r="16.5"/><text class="n" x="889" y="1382">2</text></g>
<g id="p3y2"><rect class="bx" x="826.5" y="1453.5" width="35" height="35"/><text class="n" x="844" y="1478">2</text><text class="wl" x="844" y="1511" text-anchor="middle">y<tspan class="sb" dy="3">2</tspan></text></g>
<g id="p3y1"><rect class="bx" x="917.5" y="1453.5" width="35" height="35"/><text class="n" x="935" y="1478">2</text><text class="wl" x="935" y="1511" text-anchor="middle">y<tspan class="sb" dy="3">1</tspan></text></g>
<g id="p3note"><text class="lb" x="1015" y="1514">c <tspan class="rm">⟶</tspan> t<tspan class="fs ul" dy="-7.5">5</tspan><tspan class="fs" dx="-3.8" dy="7">2</tspan><tspan dy="0.5">c</tspan></text></g>
<g id="p3prod">
 <text class="fm" x="803" y="1559">×</text>
 <text class="big" transform="translate(830,1561) scale(1.2,0.8)">∏</text>
 <text class="lim" x="830" y="1537">5</text>
 <text class="lim it" x="830" y="1576">j=1</text>
 <text class="fm" x="846" y="1559">Γ<tspan class="fsub it" dy="4">e</tspan><tspan dy="-4">(</tspan><tspan class="it">t</tspan><tspan class="fsub it" dy="-7">j−</tspan><tspan class="fb ul" dy="-4">5</tspan><tspan class="fb" dx="-5.1" dy="8">2</tspan><tspan class="it" dy="3"> y</tspan><tspan class="fsub" dy="4">1</tspan><tspan class="fsub" dx="-7" dy="-11">±</tspan><tspan class="it" dy="7"> y</tspan><tspan class="fsub" dy="4">2</tspan><tspan class="fsub" dx="-7" dy="-11">±</tspan><tspan dy="7">)</tspan></text>
</g>
</svg>
